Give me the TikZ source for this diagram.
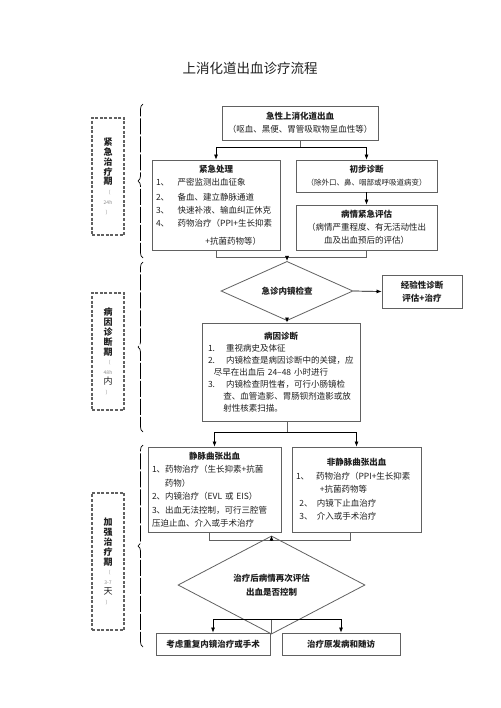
\documentclass[tikz,border=0pt]{standalone}
\usepackage{fontspec}
\setmainfont{Noto Sans CJK SC}
\usetikzlibrary{shapes.geometric,arrows.meta,decorations.pathreplacing}
\newlength{\du}
\setlength{\du}{1pt}
\definecolor{dialinecolor}{rgb}{0.380000, 0.380000, 0.380000}
\definecolor{diatextcolor}{rgb}{0.120000, 0.120000, 0.120000}
\definecolor{diafaintcolor}{rgb}{0.550000, 0.550000, 0.550000}
\tikzset{
  stagebox/.style={draw=dialinecolor, line width=1.1pt, dash pattern=on 3pt off 1.6pt, minimum width=32pt, inner sep=0pt, align=center, text=diatextcolor, font=\fontsize{9}{9.8}\selectfont},
  flowbox/.style={draw=dialinecolor, line width=0.8pt, inner ysep=0pt, inner xsep=4pt, text=diatextcolor, font=\fontsize{8.5}{13}\selectfont},
  decision/.style={draw=dialinecolor, line width=0.8pt, shape=diamond, inner sep=0pt, align=center, text=diatextcolor, font=\fontsize{8.5}{13.5}\selectfont\bfseries},
  arr/.style={draw=black, line width=0.7pt, -{Latex[length=5pt,width=4pt]}},
  link/.style={draw=dialinecolor, line width=0.7pt},
  phasebrace/.style={draw=black, line width=0.7pt, decorate, decoration={brace, amplitude=5pt}, dash pattern=on 16pt off 2pt},
}
\newcommand{\faint}[1]{{\color{diafaintcolor}\fontsize{5}{9.8}\selectfont #1}}

\begin{document}
\begin{tikzpicture}[yscale=-1]
\useasboundingbox[fill=white] (0\du,0\du) rectangle (500\du,708\du);
% setfont left to latex
\node[text=diatextcolor, font=\fontsize{13.5}{14}\selectfont] (title) at (250\du,68\du){上消化道出血诊疗流程};
% stages
\node[stagebox, minimum height=117pt] (stage1) at (108\du,176.5\du){{\bfseries 紧}\\{\bfseries 急}\\{\bfseries 治}\\{\bfseries 疗}\\{\bfseries 期}\\\faint{（}\\\faint{24h}\\\faint{）}};
\node[stagebox, minimum height=117pt] (stage2) at (108\du,351.5\du){{\bfseries 病}\\{\bfseries 因}\\{\bfseries 诊}\\{\bfseries 断}\\{\bfseries 期}\\\faint{（}\\\faint{48h}\\内\\\faint{）}};
\node[stagebox, minimum height=137pt] (stage3) at (108\du,561.5\du){{\bfseries 加}\\{\bfseries 强}\\{\bfseries 治}\\{\bfseries 疗}\\{\bfseries 期}\\\faint{（}\\\faint{3-7}\\天\\\faint{）}};
\draw[phasebrace] (143\du,258\du)--(143\du,104\du);
\draw[phasebrace] (143\du,432\du)--(143\du,262\du);
\draw[phasebrace] (143\du,647\du)--(143\du,445\du);
% boxes
\node[flowbox, align=center, minimum width=156pt, minimum height=34pt] (acute) at (300\du,123\du){{\bfseries 急性上消化道出血}\\（呕血、黑便、胃管吸取物呈血性等）};
\node[flowbox, align=left, text width=120pt, minimum height=90pt] (urgent) at (216\du,205\du){\centerline{\bfseries 紧急处理}
1、\hspace{1em}严密监测出血征象\\[2pt]
2、\hspace{1em}备血、建立静脉通道\\
3、\hspace{1em}快速补液、输血纠正休克\\
4、\hspace{1em}药物治疗（PPI+生长抑素\\[5pt]
\hspace*{5.8em}+抗菌药物等）};
\node[flowbox, align=center, minimum width=141pt, minimum height=32pt] (initial) at (366.5\du,176\du){{\bfseries 初步诊断}\\{\fontsize{7.5}{13}\selectfont （除外口、鼻、咽部或呼吸道病变）}};
\node[flowbox, align=center, minimum width=141pt, minimum height=45pt] (assess) at (366.5\du,227.5\du){{\bfseries 病情紧急评估}\\（病情严重程度、有无活动性出\\血及出血预后的评估）};
\node[decision, minimum width=132pt, minimum height=38pt] (endo) at (287\du,291\du){急诊内镜检查};
\node[flowbox, align=center, minimum width=80pt, minimum height=33pt, font=\fontsize{8.5}{13}\selectfont\bfseries] (empiric) at (422\du,291.5\du){经验性诊断\\评估+治疗};
\node[flowbox, align=left, inner xsep=6pt, text width=146pt, minimum height=98pt, font=\fontsize{8.5}{12}\selectfont] (cause) at (281\du,372\du){\centerline{\bfseries 病因诊断}
1.\hspace{1.3em}重视病史及体征\\
2.\hspace{1.3em}内镜检查是病因诊断中的关键，应\\
\hspace*{0.7em}尽早在出血后 24--48 小时进行\\
3.\hspace{1.3em}内镜检查阴性者，可行小肠镜检\\
\hspace*{1.8em}查、血管造影、胃肠钡剂造影或放\\
\hspace*{1.8em}射性核素扫描。};
\node[flowbox, align=left, text width=125pt, minimum height=85pt, font=\fontsize{8.5}{13.5}\selectfont] (varix) at (214.5\du,489.5\du){\centerline{\bfseries 静脉曲张出血}
1、药物治疗（生长抑素+抗菌\\
\hspace*{1.5em}药物）\\
2、内镜治疗（EVL 或 EIS）\\
3、出血无法控制，可行三腔管\\
压迫止血、介入或手术治疗};
\node[flowbox, align=left, text width=121pt, minimum height=85pt, font=\fontsize{8.5}{13.5}\selectfont] (nonvarix) at (356.5\du,489.5\du){\centerline{\bfseries 非静脉曲张出血}
1、\hspace{0.8em}药物治疗（PPI+生长抑素\\
\hspace*{2.8em}+抗菌药物等\\
\hspace*{0.4em}2、\hspace{0.5em}内镜下止血治疗\\
\hspace*{0.4em}3、\hspace{0.5em}介入或手术治疗\\[14pt]};
\node[decision, minimum width=187pt, minimum height=57pt] (reassess) at (271.5\du,585\du){治疗后病情再次评估\\出血是否控制};
\node[flowbox, minimum width=114pt, minimum height=22pt, font=\fontsize{8.5}{13}\selectfont\bfseries] (repeat) at (213\du,644\du){考虑重复内镜治疗或手术};
\node[flowbox, minimum width=118pt, minimum height=22pt, font=\fontsize{8.5}{13}\selectfont\bfseries] (follow) at (341\du,644\du){治疗原发病和随访};
% connectors
\coordinate (split1) at (300\du,147\du);
\draw[link] (acute.south)--(split1);
\draw[arr] (split1)-|(urgent.north);
\draw[arr] (split1)-|(initial.north);
\draw[arr] (initial.south)--(assess.north);
\coordinate (join1) at (287\du,257\du);
\draw[link] (urgent.south)--++(0,7\du)-|(assess.south);
\draw[arr] (join1)--(endo.north);
\draw[arr] (endo.east)--(empiric.west);
\draw[arr] (endo.south)--(endo.south |- cause.north);
\coordinate (split2) at (287\du,432\du);
\draw[link] (cause.south -| split2)--(split2);
\draw[arr] (split2)-|(varix.north);
\draw[arr] (split2)-|(nonvarix.north);
\coordinate (join2) at (271.5\du,540\du);
\draw[link] ([xshift=-5.5\du]varix.south)--++(0,8\du)-|([xshift=-6.5\du]nonvarix.south);
\draw[arr] (join2)--(reassess.north);
\coordinate (split3) at (271.5\du,619\du);
\draw[link] (reassess.south)--(split3);
\draw[arr] (split3)-|(repeat.north);
\draw[arr] (split3)-|(follow.north);
\end{tikzpicture}
\end{document}
